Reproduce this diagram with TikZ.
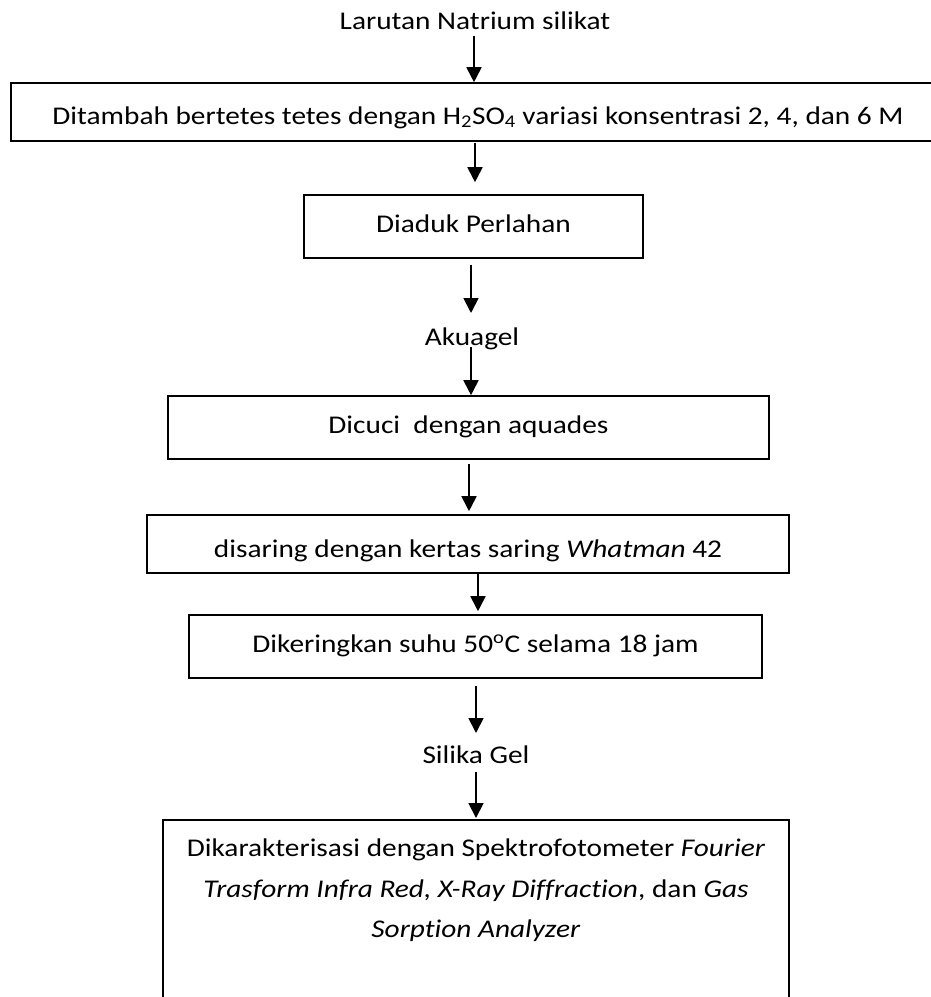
\documentclass[tikz,border=0pt]{standalone}
\usepackage{fontspec}
\setmainfont{Carlito}[FakeStretch=1.15, Ligatures=NoCommon]
\usetikzlibrary{arrows.meta}
\begin{document}
\fontsize{25.5pt}{40.5pt}\selectfont
\begin{tikzpicture}[x=1pt,y=-1pt,
  stepbox/.style={draw, line width=1.6pt, inner sep=0pt, text height=17pt, text depth=5pt},
  plain/.style={inner sep=0pt, anchor=base},
  arr/.style={line width=1.8pt, -{Triangle[width=15pt,length=15pt]}}]
\useasboundingbox (0,0) rectangle (931,997);
\clip (0,0) rectangle (931,997);
\node[plain] (t1) at (475,29) {Larutan Natrium silikat};
\node[stepbox, minimum width=934pt, minimum height=58pt, text height=24pt, text depth=0pt] (b1) at (478,112)
  {Ditambah bertetes tetes dengan H\textsubscript{2}SO\textsubscript{4} variasi konsentrasi 2, 4, dan 6 M};
\node[stepbox, minimum width=339pt, minimum height=63pt] (b2) at (473.5,226.5) {Diaduk Perlahan};
\node[plain] (t2) at (472,345) {Akuagel};
\node[stepbox, minimum width=601pt, minimum height=63pt] (b3) at (468.5,427.5) {Dicuci\ \ dengan aquades};
\node[stepbox, minimum width=642pt, minimum height=58pt, text height=26pt, text depth=0pt] (b4) at (468,544)
  {disaring dengan kertas saring \textit{Whatman} 42};
\node[stepbox, minimum width=573pt, minimum height=63pt] (b5) at (475.5,646.5)
  {Dikeringkan suhu 50\textsuperscript{o}C selama 18 jam};
\node[plain] (t3) at (476,763) {Silika Gel};
\node[draw, line width=1.6pt, anchor=north, minimum width=626pt, inner xsep=0pt, inner ysep=19pt, align=center] (b6) at (476,819)
  {Dikarakterisasi dengan Spektrofotometer \textit{Fourier}\\
   \textit{Trasform Infra Red, X-Ray Diffraction}, dan \textit{Gas}\\
   \textit{Sorption Analyzer}\\ \mbox{}\\ \mbox{}};
\draw[arr, shorten <=7pt] (474,0 |- t1.base) -- (474,0 |- b1.north);
\draw[arr, shorten <=1pt, shorten >=12pt] (475,0 |- b1.south) -- (475,0 |- b2.north);
\draw[arr, shorten <=6pt, shorten >=32pt] (471,0 |- b2.south) -- (471,0 |- t2.base);
\draw[arr, shorten <=2pt] (471,0 |- t2.base) -- (471,0 |- b3.north);
\draw[arr, shorten <=4pt, shorten >=3pt] (469,0 |- b3.south) -- (469,0 |- b4.north);
\draw[arr, shorten >=3pt] (478,0 |- b4.south) -- (478,0 |- b5.north);
\draw[arr, shorten <=7pt, shorten >=30pt] (476,0 |- b5.south) -- (476,0 |- t3.base);
\draw[arr, shorten <=9pt, shorten >=1pt] (476,0 |- t3.base) -- (476,0 |- b6.north);
\end{tikzpicture}
\end{document}
